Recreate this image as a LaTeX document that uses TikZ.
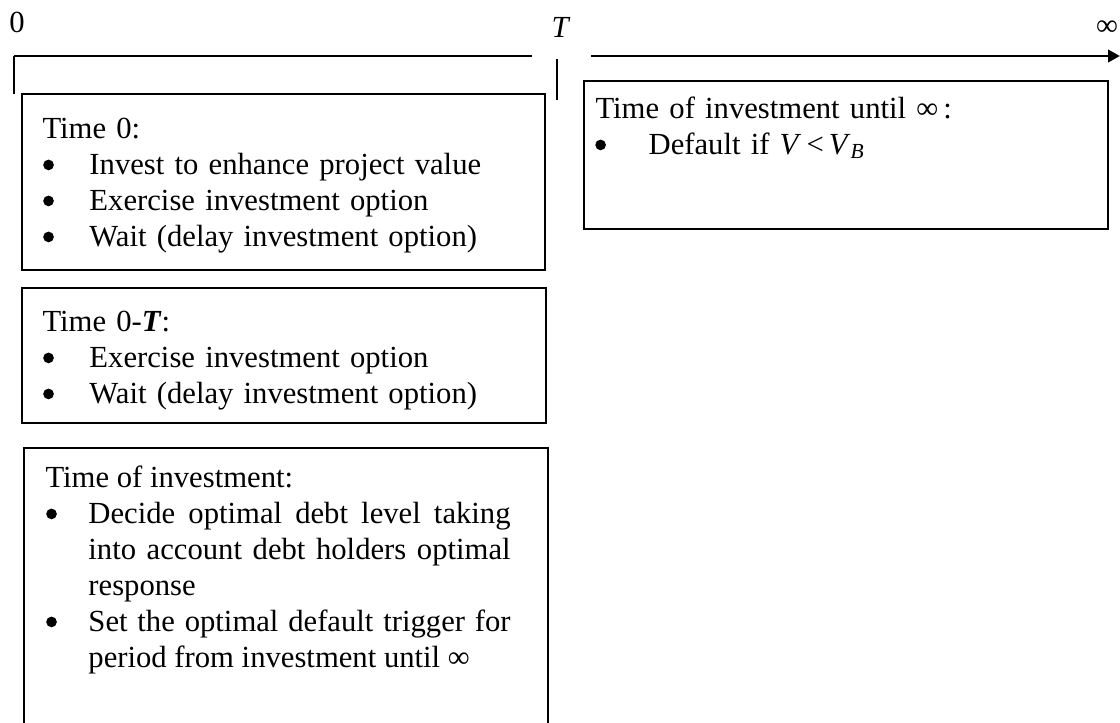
\documentclass[tikz,border=0pt]{standalone}
\usepackage{fontspec}
\setmainfont{Liberation Serif}
\usepackage{enumitem}
\usetikzlibrary{arrows.meta,positioning}
\newcommand{\dotmark}{\tikz[baseline=-3.4pt]\fill (0,0) circle (2pt);}
\setlist[itemize]{label=\dotmark, itemsep=0pt, topsep=0pt, parsep=0pt, partopsep=0pt}

\begin{document}
\begin{tikzpicture}[x=0.375pt, y=-0.375pt,
    frame/.style={draw, line width=0.75pt},
    boxtext/.style={anchor=base west, inner sep=0pt, text width=174.4pt,
                    font=\fontsize{11.5}{13.5}\selectfont},
    justtext/.style={boxtext, align=justify},
    lab/.style={inner sep=0pt, font=\fontsize{11.5}{13.5}\selectfont},
    axis/.style={line width=1.1pt},
    tick/.style={line width=0.8pt},
    arrow/.style={-{Triangle[length=4.5pt,width=4.6pt]}, line width=1.1pt}]

\useasboundingbox (0,0) rectangle (1120,722);
\clip (0,0) rectangle (1120,722);

\node[lab] (zero) at (17,22) {0};
\node[lab] (tmark) at (561,27) {\textit{T}};
\node[lab] (inf) at (1107,28) {∞};

\coordinate (origin) at (14,56);
\coordinate (gapleft) at (532,56);
\coordinate (gapright) at (591,56);
\coordinate (horizon) at (1120,56);
\coordinate (ttick) at (557,59);

\draw[axis] (origin) -- (gapleft);
\draw[tick] (origin) -- ++(0,38);
\draw[tick] (ttick) -- ++(0,41);
\draw[arrow] (gapright) -- (horizon);

\draw[frame] (22,94) rectangle (545,270);
\draw[frame] (22,288) rectangle (546,423);
\draw[frame] (24,448) rectangle (548,780);
\draw[frame] (584,81) rectangle (1108,229);

\node[boxtext] (now) at (42,138) {Time 0:
  \begin{itemize}[leftmargin=17.6pt, labelsep=13.35pt]
  \item Invest to enhance project value
  \item Exercise investment option
  \item Wait (delay investment option)
  \end{itemize}};

\node[boxtext] (window) at (42,331) {Time 0-\textbf{\textit{T}}:
  \begin{itemize}[leftmargin=17.6pt, labelsep=13.35pt]
  \item Exercise investment option
  \item Wait (delay investment option)
  \end{itemize}};

\node[justtext] (invest) at (45,487) {Time of investment:
  \begin{itemize}[leftmargin=16.1pt, labelsep=11.85pt]
  \item Decide optimal debt level taking\linebreak into account debt holders optimal\linebreak response
  \item Set the optimal default trigger for\linebreak period from investment until ∞
  \end{itemize}};

\node[boxtext] (after) at (595,118) {Time of investment until ∞\,:
  \begin{itemize}[leftmargin=19.9pt, labelsep=16pt]
  \item Default if \textit{V}\,<\,\textit{V}\textsubscript{\textit{B}}
  \end{itemize}};
\end{tikzpicture}
\end{document}
